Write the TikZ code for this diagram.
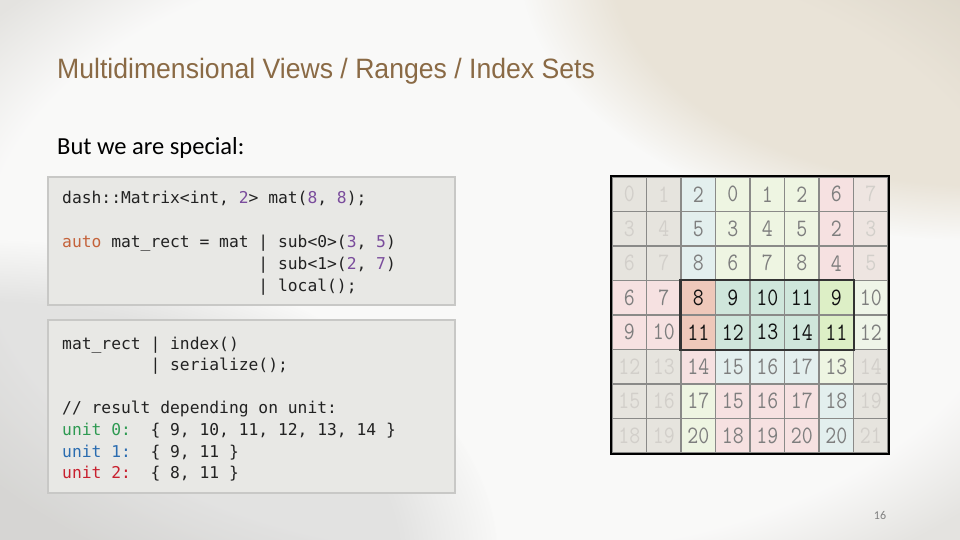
\documentclass[tikz,border=0pt]{standalone}
\usepackage{fontspec}
\setmainfont{Carlito}
\newfontfamily\titlefont[FakeStretch=0.95]{Liberation Sans}
\newfontfamily\codefont{DejaVu Sans Mono}
\usetikzlibrary{fadings}

\definecolor{bgbase}{HTML}{E4E3E0}
\definecolor{bgtint}{HTML}{D6C9B0}
\definecolor{bgshade}{HTML}{C6C6C5}
\definecolor{titlebrown}{HTML}{8A6A45}
\definecolor{boxfill}{HTML}{E8E8E5}
\definecolor{boxline}{HTML}{C8C8C6}
\definecolor{codetext}{HTML}{222222}
\definecolor{num}{HTML}{7A4C9C}
\definecolor{kw}{HTML}{C4623A}
\definecolor{uzero}{HTML}{2E9A52}
\definecolor{uone}{HTML}{2A6CB0}
\definecolor{utwo}{HTML}{C8202E}
\definecolor{gridline}{HTML}{8A8A88}
% cell fills
\definecolor{cgr}{HTML}{E6E4DE}
\definecolor{cbl}{HTML}{E3EFEE}
\definecolor{cgn}{HTML}{EEF5E2}
\definecolor{cpk}{HTML}{F6E1E1}
\definecolor{cgp}{HTML}{EEE5E1}
\definecolor{csa}{HTML}{EEC8BA}
\definecolor{cte}{HTML}{CFE6DB}
\definecolor{clg}{HTML}{DDEFC6}
\definecolor{cvg}{HTML}{EFF5E8}
% cell texts
\definecolor{tfd}{HTML}{D2CFCA}
\definecolor{tmd}{HTML}{7E7E7E}
\definecolor{tdk}{HTML}{111111}

\newcommand\narrowdigits[1]{\scalebox{0.85}[1]{#1}}

\tikzset{
  cell/.style={draw=gridline, line width=1.2pt, minimum size=34.5pt, inner sep=0pt,
    font=\ttfamily\fontsize{25}{25}\selectfont},
  codebox/.style={draw=boxline, line width=2pt, fill=boxfill, minimum width=407pt, inner sep=0pt},
  codeline/.style={anchor=base west, inner sep=0pt, text=codetext,
    font=\codefont\fontsize{16.3}{20}\selectfont},
}

\begin{document}
\begin{tikzpicture}[x=1pt,y=-1pt]
  \useasboundingbox (0,0) rectangle (960,540);
  % background
  \fill[bgbase] (0,0) rectangle (960,540);
  \fill[white, opacity=0.8, path fading=circle with fuzzy edge 20 percent] (500,250) ellipse [x radius=640, y radius=380];
  \fill[bgtint, opacity=0.45, path fading=circle with fuzzy edge 20 percent] (980,-40) ellipse [x radius=460, y radius=280];
  \fill[bgshade, opacity=0.45, path fading=circle with fuzzy edge 20 percent] (-20,560) ellipse [x radius=520, y radius=320];

  \node[anchor=base west, inner sep=0pt, text=titlebrown, font=\titlefont\fontsize{28}{32}\selectfont]
    (title) at (57,79) {Multidimensional Views / Ranges / Index Sets};
  \node[anchor=base west, inner sep=0pt, font=\fontsize{24.5}{28}\selectfont]
    (intro) at (57,155) {But we are special:};

  % code boxes
  \node[codebox, minimum height=128pt] (boxA) at (251.5,241) {};
  \node[codebox, minimum height=173pt] (boxB) at (251.5,406.5) {};

  \node[codeline] (lnA1) at (62,204) {dash::Matrix<int, {\color{num}2}> mat({\color{num}8}, {\color{num}8});};
  \node[codeline] (lnA2) at (62,247) {{\color{kw}auto} mat\_rect = mat | sub<0>({\color{num}3}, {\color{num}5})};
  \node[codeline] (lnA3) at (62,269) {\phantom{auto mat\_rect = mat\ }| sub<1>({\color{num}2}, {\color{num}7})};
  \node[codeline] (lnA4) at (62,291) {\phantom{auto mat\_rect = mat\ }| local();};

  \node[codeline] (lnB1) at (62,349) {mat\_rect | index()};
  \node[codeline] (lnB2) at (62,370) {\phantom{mat\_rect\ }| serialize();};
  \node[codeline] (lnB3) at (62,413) {// result depending on unit:};
  \node[codeline] (lnB4) at (62,435) {{\color{uzero}unit 0:}~~\{ 9, 10, 11, 12, 13, 14 \}};
  \node[codeline] (lnB5) at (62,457) {{\color{uone}unit 1:}~~\{ 9, 11 \}};
  \node[codeline] (lnB6) at (62,478) {{\color{utwo}unit 2:}~~\{ 8, 11 \}};

  % matrix cells: value/fill/text
  \foreach \rowdata [count=\r from 0] in {
    {0/gr/fd,1/gr/fd,2/bl/md,0/gn/md,1/gn/md,2/gn/md,6/pk/md,7/gp/fd},
    {3/gr/fd,4/gr/fd,5/bl/md,3/gn/md,4/gn/md,5/gn/md,2/pk/md,3/gp/fd},
    {6/gr/fd,7/gr/fd,8/bl/md,6/gn/md,7/gn/md,8/gn/md,4/pk/md,5/gp/fd},
    {6/pk/md,7/pk/md,8/sa/dk,9/te/dk,10/te/dk,11/te/dk,9/lg/dk,10/vg/md},
    {9/pk/md,10/pk/md,11/sa/dk,12/te/dk,13/te/dk,14/te/dk,11/lg/dk,12/vg/md},
    {12/gr/fd,13/gr/fd,14/pk/md,15/bl/md,16/bl/md,17/bl/md,13/gn/md,14/gr/fd},
    {15/gr/fd,16/gr/fd,17/gn/md,15/pk/md,16/pk/md,17/pk/md,18/bl/md,19/gr/fd},
    {18/gr/fd,19/gr/fd,20/gn/md,18/pk/md,19/pk/md,20/pk/md,20/bl/md,21/gr/fd}}{
    \foreach \v/\bg/\tx [count=\c from 0] in \rowdata
      \node[cell, fill=c\bg, text=t\tx] (c-\r-\c) at ({629.25+34.5*\c},{194.25+34.5*\r}) {\narrowdigits{\v}};
  }
  \draw[line width=2.5pt, draw=black!80] (c-3-2.north west) rectangle (c-4-6.south east);
  \draw[line width=2pt] (c-0-0.north west) rectangle (c-7-7.south east);

  \node[text=black!50, font=\fontsize{12}{14}\selectfont] (pagenum) at (880,515) {16};
\end{tikzpicture}
\end{document}
